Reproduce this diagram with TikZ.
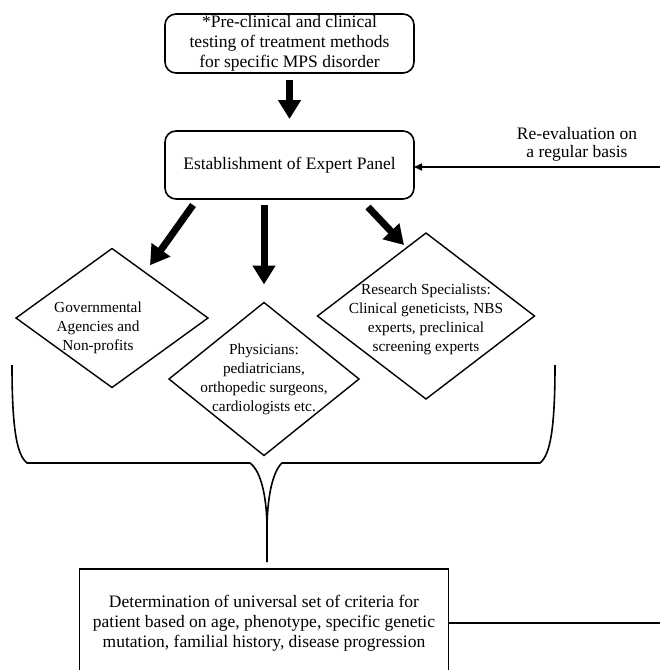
\documentclass[tikz,border=0pt]{standalone}
\usepackage{fontspec}
\setmainfont{Liberation Serif}
\usetikzlibrary{positioning,shapes.geometric,arrows.meta,calc}

\begin{document}
\begin{tikzpicture}[x=1pt,y=-1pt,
roundbox/.style={rectangle, draw=black, line width=1.6pt, rounded corners=11pt, minimum width=249pt, align=center, font=\fontsize{17.5}{20}\selectfont, inner sep=0pt, outer sep=0pt},
plainbox/.style={rectangle, draw=black, line width=1.6pt, align=center, font=\fontsize{17.5}{20}\selectfont, inner sep=0pt, outer sep=0pt},
diamondnode/.style={diamond, draw=black, line width=1.4pt, inner sep=0pt, outer sep=0pt},
diamondtext/.style={align=center, font=\fontsize{15.3}{19}\selectfont, inner sep=0pt},
bigarrow/.style={line width=7pt, -{Triangle[length=19pt,width=22pt]}},
thinarrow/.style={line width=1.6pt, -{Triangle[length=8pt,width=7pt]}},
bracket/.style={line width=1.6pt}
]
\useasboundingbox (0,0) rectangle (660,670);
\clip (0,0) rectangle (660,670);

\node[roundbox, minimum height=59pt] (test) at (289.5,43.5) {*Pre-clinical and clinical\\testing of treatment methods\\for specific MPS disorder};
\node[roundbox, minimum height=68pt] (panel) at (289.5,165) {Establishment of Expert Panel};
\node[align=center, font=\fontsize{17.5}{18}\selectfont] (reeval) at (577,144) {Re-evaluation on\\a regular basis};
\coordinate (redge) at (660,167);

\node[diamondnode, minimum width=192pt, minimum height=139pt, label={[diamondtext, xshift=-14pt, yshift=-10pt]center:Governmental\\Agencies and\\Non-profits}] (gov) at (112,318) {};
\node[diamondnode, minimum width=190pt, minimum height=153pt, label={[diamondtext]center:Physicians:\\pediatricians,\\orthopedic surgeons,\\cardiologists etc.}] (phys) at (264,379) {};
\node[diamondnode, minimum width=217pt, minimum height=166pt, label={[diamondtext, yshift=-3pt]center:Research Specialists:\\Clinical geneticists, NBS\\experts, preclinical\\screening experts}] (res) at (426,316) {};

\node[plainbox, minimum width=369pt, minimum height=108pt] (crit) at (264,623) {Determination of universal set of criteria for\\patient based on age, phenotype, specific genetic\\mutation, familial history, disease progression};
\coordinate (cedge) at (660,623);

\draw[bigarrow, shorten <=7pt, shorten >=12pt] (test) -- (panel);
\draw[bigarrow] ($(panel.south west)+(28,6)$) -- ($(gov.north east)+(-10,-18)$);
\draw[bigarrow, shorten <=6pt, shorten >=18pt] (phys.north |- panel.south) -- (phys.north);
\draw[bigarrow] ($(panel.south east)+(-46,8)$) -- ($(res.north)+(-22,12)$);
\draw[thinarrow] (redge) -- (redge -| panel.east);
\draw[bracket] (crit.east) -- (cedge);

\draw[bracket] (12,365) .. controls (12,430) and (17,455) .. (27,463) -- (250,463) .. controls (262,472) and (267,500) .. (267,530) -- (267,562);
\draw[bracket] (555,365) .. controls (555,430) and (550,455) .. (540,463) -- (282,463) .. controls (272,472) and (267,500) .. (267,530);
\end{tikzpicture}
\end{document}
